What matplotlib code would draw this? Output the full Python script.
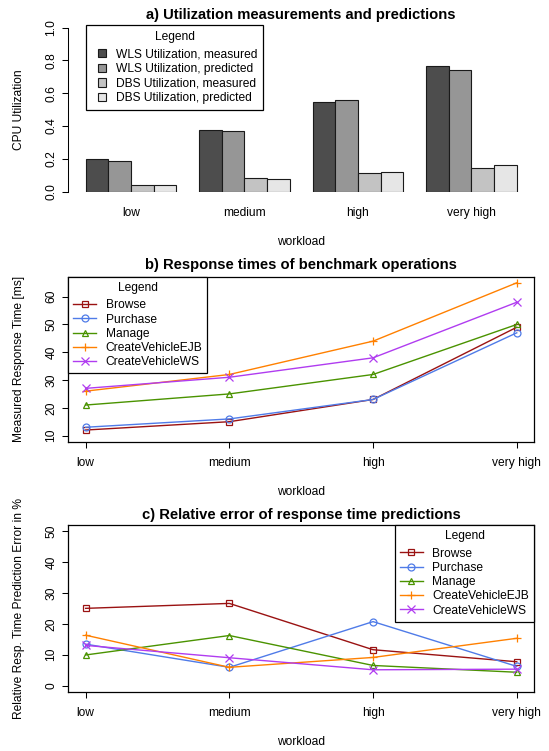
import matplotlib
matplotlib.use("Agg")
import matplotlib.pyplot as plt
from matplotlib.patches import Rectangle, Patch
from matplotlib.legend_handler import HandlerPatch

# ---------------- data ----------------
workloads = ["low", "medium", "high", "very high"]

util_labels = ["WLS Utilization, measured", "WLS Utilization, predicted",
               "DBS Utilization, measured", "DBS Utilization, predicted"]
wls_measured = [0.201, 0.378, 0.549, 0.764]
wls_predicted = [0.185, 0.370, 0.557, 0.744]
dbs_measured = [0.041, 0.081, 0.112, 0.146]
dbs_predicted = [0.039, 0.077, 0.118, 0.161]
util_colors = ["#4D4D4D", "#969696", "#C3C3C3", "#E6E6E6"]

operations = ["Browse", "Purchase", "Manage", "CreateVehicleEJB", "CreateVehicleWS"]
rt_browse = [12, 15, 23, 49]
rt_purchase = [13, 16, 23, 47]
rt_manage = [21, 25, 32, 50]
rt_ejb = [26, 32, 44, 65]
rt_ws = [27, 31, 38, 58]

err_browse = [25.0, 26.6, 11.6, 7.7]
err_purchase = [13.4, 5.9, 20.7, 6.2]
err_manage = [9.9, 16.2, 6.5, 4.3]
err_ejb = [16.3, 5.9, 9.1, 15.3]
err_ws = [13.0, 9.0, 5.1, 5.3]

op_colors = ["#9A1212", "#4F7BE8", "#4A9300", "#FF8000", "#B03CF0"]
op_markers = ["s", "o", "^", "+", "x"]

# ---------------- style ----------------
W, H = 549, 751
DPI = 100
PX = 72.0 / DPI  # points per pixel
FS = 12 * PX
TFS = 14.8 * PX
plt.rcParams["font.family"] = ["Liberation Sans", "DejaVu Sans"]
plt.rcParams["font.size"] = FS

fig = plt.figure(figsize=(W / DPI, H / DPI), dpi=DPI)


def rect(left, top, right, bottom):
    return [left / W, 1 - bottom / H, (right - left) / W, (bottom - top) / H]


def style_common(ax, hpx, xtick_len):
    ax.tick_params(axis="both", direction="out", width=0.75, color="black",
                   labelsize=FS)
    ax.tick_params(axis="y", length=6 * PX, pad=4.8 * PX, labelrotation=90)
    ax.tick_params(axis="x", length=xtick_len * PX,
                   pad=(15.5 - xtick_len) * PX)
    for lbl in ax.get_yticklabels():
        lbl.set_va("center")
    ax.yaxis.set_label_coords(-49 / 465.6, 0.5)
    ax.xaxis.set_label_coords(0.5, -50 / hpx)
    ax.xaxis.label.set_va("center")
    ax.yaxis.label.set_va("center")


def square_patch(legend, orig_handle, xdescent, ydescent, width, height, fontsize):
    s = 0.68 * fontsize
    return Rectangle((-xdescent + width - s, -ydescent + (height - s) / 2), s, s)


def widen_title_gap(leg, gap_px):
    # extra space between legend title and entries (R-style legend)
    try:
        leg._legend_box.sep = gap_px * PX
    except Exception:
        pass


# ---------------- panel a ----------------
axa = fig.add_axes(rect(68.4, 27.7, 534, 191.7))
util_series = [wls_measured, wls_predicted, dbs_measured, dbs_predicted]
n_bars = len(util_series)
for j, (vals, lab, col) in enumerate(zip(util_series, util_labels, util_colors)):
    xs = [1 + g * (n_bars + 1) + j + 0.5 for g in range(len(workloads))]
    axa.bar(xs, vals, width=1.0, color=col, edgecolor="#1a1a1a",
            linewidth=0.8, label=lab)
centers = [1 + g * (n_bars + 1) + n_bars / 2 for g in range(len(workloads))]
axa.set_xlim(0.24, 20.76)
axa.set_ylim(0, 1.0)
axa.set_xticks(centers)
axa.set_xticklabels(workloads)
axa.set_yticks([0.0, 0.2, 0.4, 0.6, 0.8, 1.0])
axa.set_yticklabels(["0.0", "0.2", "0.4", "0.6", "0.8", "1.0"])
for s in ["top", "right", "bottom"]:
    axa.spines[s].set_visible(False)
axa.spines["left"].set_bounds(0, 1.0)
axa.spines["left"].set_linewidth(0.75)
axa.set_ylabel("CPU Utilization")
axa.set_xlabel("workload")
style_common(axa, 164.0, 0)
axa.set_title("a) Utilization measurements and predictions",
              fontsize=TFS, fontweight="bold", pad=9.0 * PX)
handles = [Patch(facecolor=c, edgecolor="#1a1a1a", linewidth=0.8) for c in util_colors]
leg = axa.legend(handles, util_labels, title="Legend", loc="upper left",
                 bbox_to_anchor=((85.8 - 68.4) / 465.6, (191.7 - 25) / 164.0),
                 borderaxespad=0, frameon=True, fancybox=False, framealpha=1,
                 edgecolor="black", borderpad=0.5, handlelength=1.16,
                 handleheight=0.7, handletextpad=0.85, labelspacing=0.22,
                 fontsize=FS, title_fontsize=FS,
                 handler_map={Patch: HandlerPatch(patch_func=square_patch)})
leg.get_frame().set_linewidth(0.9)
widen_title_gap(leg, 5.5)


# ---------------- panels b and c ----------------
def line_panel(ax, series, ylim, yticks, ylabel, title, title_pad, loc, anchor, hpx):
    xs = list(range(1, len(workloads) + 1))
    for vals, lab, col, mk in zip(series, operations, op_colors, op_markers):
        ms = 6.2 if mk in ("+", "x") else 5.0
        ax.plot(xs, vals, color=col, marker=mk, markersize=ms,
                markerfacecolor="none", markeredgecolor=col,
                markeredgewidth=0.9, linewidth=1.0, label=lab)
    ax.set_xlim(0.88, 4.12)
    ax.set_ylim(*ylim)
    ax.set_xticks(xs)
    ax.set_xticklabels(workloads)
    ax.set_yticks(yticks)
    for s in ax.spines.values():
        s.set_linewidth(0.9)
    ax.set_ylabel(ylabel)
    ax.set_xlabel("workload")
    style_common(ax, hpx, 6)
    ax.set_title(title, fontsize=TFS, fontweight="bold", pad=title_pad * PX)
    lg = ax.legend(title="Legend", loc=loc, bbox_to_anchor=anchor,
                   borderaxespad=0, frameon=True, fancybox=False, framealpha=1,
                   edgecolor="black", borderpad=0.42, handlelength=1.89,
                   handletextpad=0.79, labelspacing=0.19,
                   fontsize=FS, title_fontsize=FS)
    lg.get_frame().set_linewidth(0.9)
    widen_title_gap(lg, 5.5)


axb = fig.add_axes(rect(68.4, 276.7, 534, 441.7))
line_panel(axb, [rt_browse, rt_purchase, rt_manage, rt_ejb, rt_ws],
           (7.8, 67.2), [10, 20, 30, 40, 50, 60], "Measured Response Time [ms]",
           "b) Response times of benchmark operations", 8.2,
           "upper left", (0, 1), 165.0)

axc = fig.add_axes(rect(68.4, 525, 534, 691.7))
line_panel(axc, [err_browse, err_purchase, err_manage, err_ejb, err_ws],
           (-2, 52), [0, 10, 20, 30, 40, 50],
           "Relative Resp. Time Prediction Error in %",
           "c) Relative error of response time predictions", 6.5,
           "upper right", (1, 1), 166.7)

fig.savefig("out.png", dpi=DPI)
